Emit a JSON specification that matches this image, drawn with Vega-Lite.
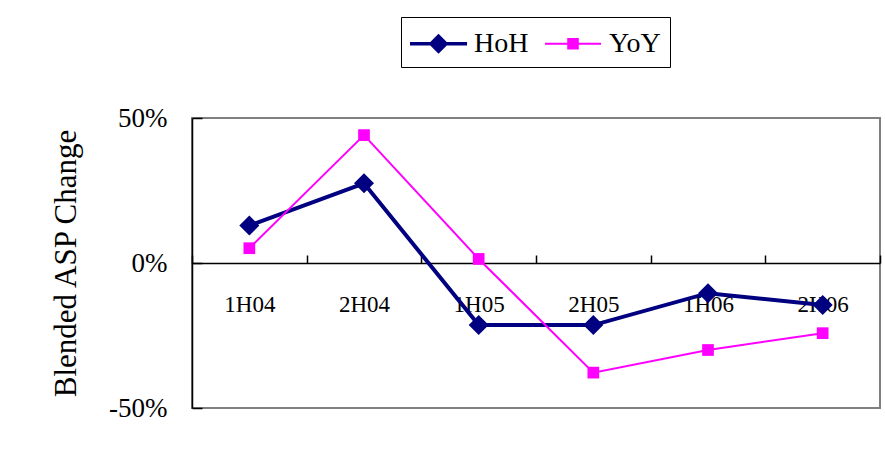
{
  "$schema": "https://vega.github.io/schema/vega-lite/v6.json",
  "width": 688,
  "height": 290,
  "autosize": {"type": "none"},
  "padding": {"left": 192, "top": 118, "right": 5, "bottom": 43},
  "background": "white",
  "config": {
    "font": "Liberation Serif",
    "view": {"stroke": "#808080", "strokeWidth": 2}
  },
  "data": {
    "values": [
      {"period": "1H04", "series": "HoH", "change": 0.129},
      {"period": "2H04", "series": "HoH", "change": 0.275},
      {"period": "1H05", "series": "HoH", "change": -0.214},
      {"period": "2H05", "series": "HoH", "change": -0.214},
      {"period": "1H06", "series": "HoH", "change": -0.104},
      {"period": "2H06", "series": "HoH", "change": -0.145},
      {"period": "1H04", "series": "YoY", "change": 0.051},
      {"period": "2H04", "series": "YoY", "change": 0.441},
      {"period": "1H05", "series": "YoY", "change": 0.014},
      {"period": "2H05", "series": "YoY", "change": -0.378},
      {"period": "1H06", "series": "YoY", "change": -0.300},
      {"period": "2H06", "series": "YoY", "change": -0.242}
    ]
  },
  "encoding": {
    "x": {
      "field": "period",
      "type": "nominal",
      "sort": null,
      "scale": {"type": "band", "paddingInner": 0, "paddingOuter": 0},
      "axis": {
        "title": null,
        "orient": "bottom",
        "offset": -145,
        "labelAngle": 0,
        "labelFontSize": 23,
        "labelColor": "black",
        "labelPadding": 38,
        "labelBaseline": "top",
        "tickBand": "extent",
        "tickSize": -8,
        "tickColor": "black",
        "tickWidth": 1.5,
        "domainColor": "black",
        "domainWidth": 1.5
      }
    },
    "y": {
      "field": "change",
      "type": "quantitative",
      "scale": {"domain": [-0.5, 0.5], "nice": false},
      "axis": {
        "title": "Blended ASP Change",
        "titleFontSize": 31,
        "titleFontWeight": "normal",
        "titleColor": "black",
        "titleX": -117,
        "titleY": 145,
        "titleAngle": -90,
        "titleAlign": "center",
        "titleBaseline": "alphabetic",
        "values": [-0.5, 0, 0.5],
        "format": ".0%",
        "labelExpr": "replace(datum.label, '\u2212', '-')",
        "grid": false,
        "labelFontSize": 27,
        "labelColor": "black",
        "labelPadding": 35,
        "tickSize": -10,
        "tickColor": "black",
        "tickWidth": 1.5,
        "domainColor": "black",
        "domainWidth": 1.5
      }
    },
    "color": {
      "field": "series",
      "type": "nominal",
      "scale": {"domain": ["HoH", "YoY"], "range": ["#000080", "#FF00FF"]},
      "legend": {
        "title": null,
        "orient": "none",
        "direction": "horizontal",
        "legendX": 209,
        "legendY": -101,
        "padding": 9,
        "fillColor": "white",
        "strokeColor": "black",
        "labelFontSize": 28,
        "labelColor": "black",
        "labelOffset": 29,
        "columnPadding": 16,
        "symbolSize": 1225,
        "symbolStrokeWidth": 0,
        "encode": {
          "symbols": {
            "update": {
              "shape": {"signal": "datum.value === 'HoH' ? 'M-1,-0.1H2.26V0.1H-1Z M0.63,-0.57L1.2,0L0.63,0.57L0.06,0Z' : 'M-1,-0.06H2.2V0.06H-1Z M0.27,-0.33H0.93V0.33H0.27Z'"},
              "fill": {"signal": "datum.value === 'HoH' ? '#000080' : '#FF00FF'"},
              "opacity": {"value": 1},
              "fillOpacity": {"value": 1}
            }
          }
        }
      }
    }
  },
  "layer": [
    {
      "mark": {"type": "line", "strokeWidth": 4},
      "transform": [{"filter": "datum.series === 'HoH'"}]
    },
    {
      "mark": {"type": "line", "strokeWidth": 2},
      "transform": [{"filter": "datum.series === 'YoY'"}]
    },
    {
      "mark": {"type": "point", "shape": "diamond", "filled": true, "size": 400, "opacity": 1},
      "transform": [{"filter": "datum.series === 'HoH'"}]
    },
    {
      "mark": {"type": "point", "shape": "square", "filled": true, "size": 137, "opacity": 1},
      "transform": [{"filter": "datum.series === 'YoY'"}]
    }
  ]
}
